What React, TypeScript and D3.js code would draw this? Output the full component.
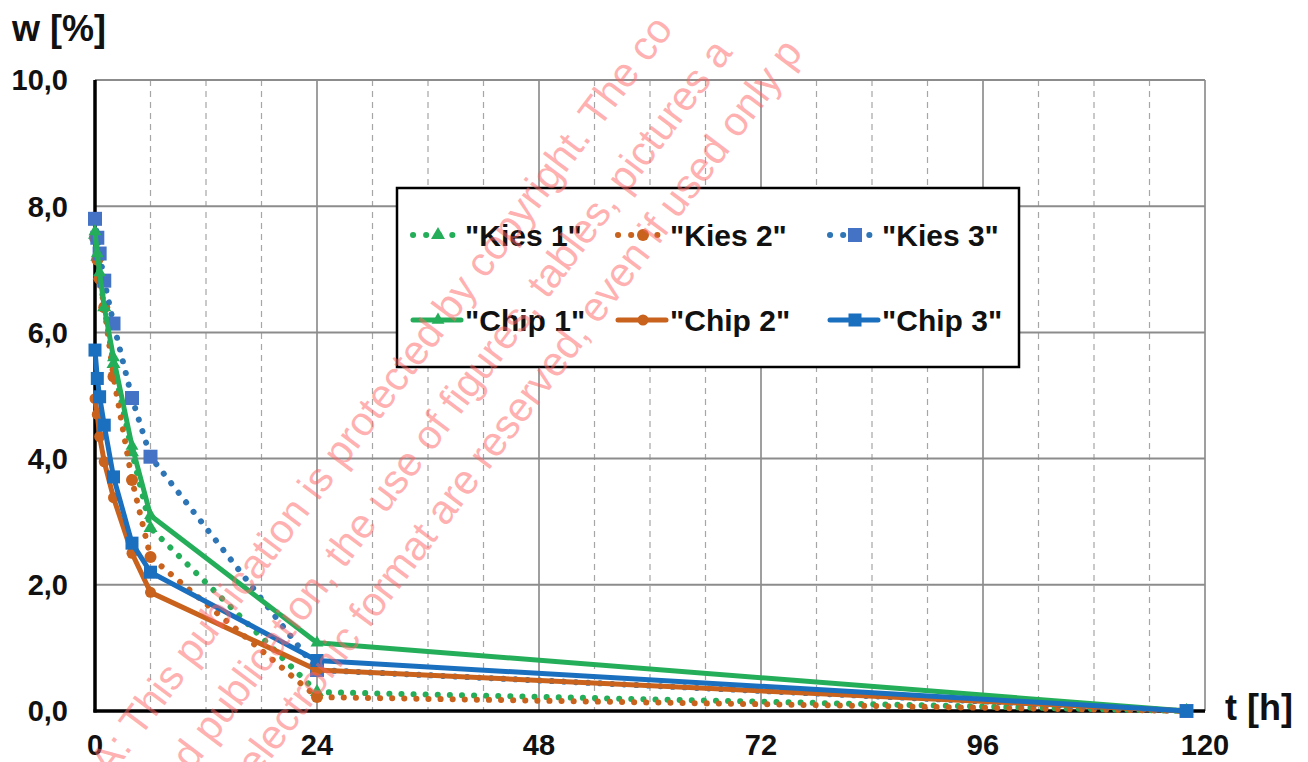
import React from "react";
import * as d3 from "d3";

// Sampling times in hours
const hours = [0, 0.25, 0.5, 1, 2, 4, 6, 24, 118];

// Moisture content w [%] per series
const kies1 = [7.55, 7.2, 6.9, 6.4, 5.5, 4.1, 2.9, 0.3, 0];
const kies2 = [7.5, 7.15, 6.85, 6.4, 5.3, 3.66, 2.44, 0.22, 0];
const kies3 = [7.8, 7.5, 7.25, 6.82, 6.14, 4.96, 4.03, 0.65, 0];
const chip1 = [7.6, 7.25, 6.95, 6.4, 5.6, 4.2, 3.1, 1.08, 0];
const chip2 = [4.95, 4.7, 4.35, 3.95, 3.38, 2.5, 1.88, 0.65, 0];
const chip3 = [5.72, 5.27, 4.98, 4.53, 3.71, 2.66, 2.2, 0.8, 0];

const seriesNames = ['"Kies 1"', '"Kies 2"', '"Kies 3"', '"Chip 1"', '"Chip 2"', '"Chip 3"'];

const xTicks = [0, 24, 48, 72, 96, 120];
const xMinorTicks = d3.range(6, 120, 6).filter((h) => h % 24 !== 0);
const yTicks = [0, 2, 4, 6, 8, 10];
const yTickLabels = ["0,0", "2,0", "4,0", "6,0", "8,0", "10,0"];

const watermarkLines = [
  "A: This publication is protected by copyright. The co",
  "nd publication, the use of figures, tables, pictures a",
  "n electronic format are reserved, even if used only p",
];

type MarkerKind = "triangle" | "circle" | "square";

interface SeriesStyle {
  name: string;
  values: number[];
  color: string;
  markerColor: string;
  dotted: boolean;
  marker: MarkerKind;
  markerSize: number;
}

const GREEN = "#25AE5A";
const ORANGE = "#C8621C";
const BLUE = "#1A6FBE";

const series: SeriesStyle[] = [
  { name: seriesNames[0], values: kies1, color: GREEN, markerColor: GREEN, dotted: true, marker: "triangle", markerSize: 13 },
  { name: seriesNames[1], values: kies2, color: ORANGE, markerColor: ORANGE, dotted: true, marker: "circle", markerSize: 12 },
  { name: seriesNames[2], values: kies3, color: "#2E75B6", markerColor: "#4472C4", dotted: true, marker: "square", markerSize: 14 },
  { name: seriesNames[3], values: chip1, color: GREEN, markerColor: GREEN, dotted: false, marker: "triangle", markerSize: 12 },
  { name: seriesNames[4], values: chip2, color: ORANGE, markerColor: ORANGE, dotted: false, marker: "circle", markerSize: 11 },
  { name: seriesNames[5], values: chip3, color: BLUE, markerColor: BLUE, dotted: false, marker: "square", markerSize: 13 },
];

const FONT = "'Liberation Sans', Arial, Helvetica, sans-serif";

const W = 1308;
const H = 762;
const x = d3.scaleLinear().domain([0, 120]).range([95, 1205]);
const y = d3.scaleLinear().domain([0, 10]).range([711, 80]);

function Marker({ kind, cx, cy, size, color }: { kind: MarkerKind; cx: number; cy: number; size: number; color: string }) {
  if (kind === "square") {
    return <rect x={cx - size / 2} y={cy - size / 2} width={size} height={size} fill={color} />;
  }
  if (kind === "circle") {
    return <circle cx={cx} cy={cy} r={size / 2} fill={color} />;
  }
  const sym = d3.symbol().type(d3.symbolTriangle).size(size * size * 0.5)();
  return <path d={sym || ""} transform={`translate(${cx},${cy})`} fill={color} />;
}

export default function App() {
  const line = d3
    .line<number>()
    .x((_, i) => x(hours[i]))
    .y((v) => y(v));

  const legendCols = [413, 618, 830];
  const legendRows = [235, 320];

  return (
    <svg
      width={W}
      height={H}
      viewBox={`0 0 ${W} ${H}`}
      style={{ position: "absolute", left: 0, top: 0, display: "block", background: "#fff" }}
      fontFamily={FONT}
    >
      {/* grid */}
      <g>
        {xMinorTicks.map((h) => (
          <line key={`mx${h}`} x1={x(h)} x2={x(h)} y1={y(10)} y2={y(0)} stroke="#a6a6a6" strokeWidth={1.2} strokeDasharray="6 5" />
        ))}
        {xTicks.slice(1).map((h) => (
          <line key={`gx${h}`} x1={x(h)} x2={x(h)} y1={y(10)} y2={y(0)} stroke="#7f7f7f" strokeWidth={1.5} />
        ))}
        {yTicks.slice(1).map((v) => (
          <line key={`gy${v}`} x1={x(0)} x2={x(120)} y1={y(v)} y2={y(v)} stroke="#8c8c8c" strokeWidth={2} />
        ))}
      </g>

      {/* axes */}
      <line x1={x(0)} x2={x(0)} y1={y(10)} y2={y(0) + 1.5} stroke="#000" strokeWidth={3.5} />
      <line x1={x(0) - 1.5} x2={x(120)} y1={y(0)} y2={y(0)} stroke="#000" strokeWidth={3.5} />

      {/* tick labels */}
      {yTicks.map((v, i) => (
        <text key={`yl${v}`} x={68} y={y(v)} dy="0.36em" textAnchor="end" fontSize={29} fontWeight="bold" fill="#111">
          {yTickLabels[i]}
        </text>
      ))}
      {xTicks.map((h) => (
        <text key={`xl${h}`} x={x(h)} y={755} textAnchor="middle" fontSize={29} fontWeight="bold" fill="#111">
          {h}
        </text>
      ))}

      {/* axis titles */}
      <text x={12} y={41} fontSize={36} fontWeight="bold" fill="#111">w [%]</text>
      <text x={1225} y={720} fontSize={36} fontWeight="bold" fill="#111">t [h]</text>

      {/* series */}
      {series.map((s, si) => (
        <g key={`s${si}`}>
          <path
            d={line(s.values) || ""}
            fill="none"
            stroke={s.color}
            strokeWidth={s.dotted ? 6 : 5}
            strokeLinecap="round"
            strokeLinejoin="round"
            strokeDasharray={s.dotted ? "0.1 12" : undefined}
          />
          {s.values.map((v, i) => (
            <Marker key={i} kind={s.marker} cx={x(hours[i])} cy={y(v)} size={s.markerSize} color={s.markerColor} />
          ))}
        </g>
      ))}

      {/* legend */}
      <rect x={397} y={188} width={622} height={179} fill="#fff" stroke="#000" strokeWidth={2.5} />
      {series.map((s, si) => {
        const lx = legendCols[si % 3];
        const ly = legendRows[Math.floor(si / 3)];
        return (
          <g key={`lg${si}`}>
            <line
              x1={lx}
              x2={lx + 48}
              y1={ly}
              y2={ly}
              stroke={s.color}
              strokeWidth={s.dotted ? 6 : 5}
              strokeLinecap="round"
              strokeDasharray={s.dotted ? "0.1 13" : undefined}
            />
            <Marker kind={s.marker} cx={lx + 25} cy={ly} size={s.markerSize} color={s.markerColor} />
            <text x={lx + 52} y={ly + 11} fontSize={30} fontWeight="bold" fill="#111">
              {s.name}
            </text>
          </g>
        );
      })}

      {/* watermark */}
      <g fontSize={41} fill="#FF6464" fillOpacity={0.5} fontFamily={FONT}>
        <text transform="translate(110,778) rotate(-53)">{watermarkLines[0]}</text>
        <text transform="translate(178,790) rotate(-53)">{watermarkLines[1]}</text>
        <text transform="translate(236,806) rotate(-53)">{watermarkLines[2]}</text>
      </g>
    </svg>
  );
}
